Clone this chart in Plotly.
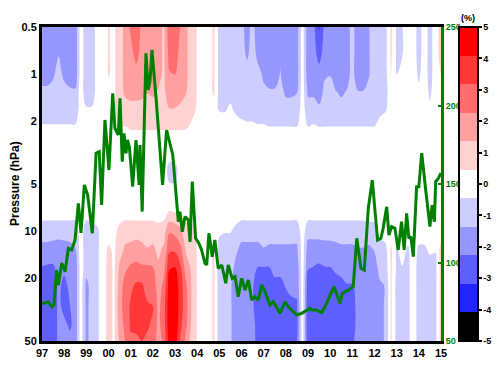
import numpy as np
import plotly.graph_objects as go

# ---------------- data ----------------
# time grid of the anomaly field (decimal years)
times = [1997.00, 1997.25, 1997.50, 1997.75, 1998.00, 1998.25, 1998.50, 1998.75,
         1999.00, 1999.25, 1999.50, 1999.75, 2000.00, 2000.25, 2000.50, 2000.75,
         2001.00, 2001.25, 2001.50, 2001.75, 2002.00, 2002.25, 2002.50, 2002.75,
         2003.00, 2003.25, 2003.50, 2003.75, 2004.00, 2004.25, 2004.50, 2004.75,
         2005.00, 2005.25, 2005.50, 2005.75, 2006.00, 2006.25, 2006.50, 2006.75,
         2007.00, 2007.25, 2007.50, 2007.75, 2008.00, 2008.25, 2008.50, 2008.75,
         2009.00, 2009.25, 2009.50, 2009.75, 2010.00, 2010.25, 2010.50, 2010.75,
         2011.00, 2011.25, 2011.50, 2011.75, 2012.00, 2012.25, 2012.50, 2012.75,
         2013.00, 2013.25, 2013.50, 2013.75, 2014.00, 2014.25, 2014.50, 2014.75,
         2015.00]

# pressure levels (hPa)
levels = [0.5, 0.75, 1.0, 1.3, 1.7, 2.2, 3.0, 4.2, 6.0, 7.5, 10, 13, 17, 22, 30, 40, 50]

# anomaly (%) profiles, one per time, ordered like `levels`
anomaly_profiles = [
    [-2, -2, -2, -1, -1, -0.3, 0, 0, 0, 0, -1, -1.6, -2.3, -3, -3, -3, -3],
    [-2, -2, -2, -1, -1, -0.3, 0, 0, 0, 0, -1, -1.6, -2.4, -3, -3, -3, -3],
    [-2, -2, -1.5, -1, -1, -0.3, 0, 0, 0, 0, -1, -1.7, -2.4, -3, -3, -3, -3],
    [-2, -1.4, -1, -1, -1, -0.3, 0, 0, 0, 0, -1, -1.8, -2, -2, -2, -2, -2],
    [-2, -2, -1.6, -1, -1, -0.3, 0, 0, 0, 0, -1, -1.7, -2, -2.6, -2.6, -2, -2],
    [-2, -2, -1.8, -1.2, -1, -0.3, 0, 0, 0, 0, -1, -1.6, -2, -2, -2.3, -2.4, -2],
    [-2, -2, -2, -1.2, -1, -0.3, 0, 0, 0, 0, -1, -1.4, -2, -2, -2, -2, -2],
    [0, 0, 0, 0, 0, 0, 0, 0, 0, 0, 0, 0, 0, 0, 0, 0, 0],
    [-1, -1, -1, -1, -0.3, 0, 0, 0, 0, 0, -1, -1, -1, -1.6, -1.6, -1.6, -1.6],
    [-1, -1, -1, -1, -0.3, 0, 0, 0, 0, 0, -0.8, -1, -1, -1, -1, -1, -1],
    [0, 0, 0, 0, 0, 0, 0, 0, 0, 0, -0.6, -0.6, -0.6, -0.6, -0.6, -0.6, -0.6],
    [0, 0, 0, 0, 0, 0, 0, 0, 0, 0, 0, 0, 0, 0, 0, 0, 0],
    [0.5, 0.5, 0.5, 0.2, 0, 0, 0, 0, 0, 0, 0, 0.6, 0.8, 0.8, 0.8, 0.8, 0.8],
    [0.3, 0.3, 0.3, 0.3, 0.3, 0.2, 0, 0, 0, 0, 0.2, 0.3, 0.3, 0.3, 0.3, 0.3, 0.3],
    [1, 1, 1, 1, 1, 0.4, 0, 0, 0, 0, 0.7, 1, 1.5, 1.8, 2, 1.8, 1.5],
    [1.6, 1.6, 1.6, 1.5, 1, 0.4, 0, 0, 0, 0, 1, 1.5, 2.1, 2.6, 2.6, 2.5, 2.3],
    [2.4, 2, 2, 1.6, 1.1, 0.5, 0, 0, 0, 0, 1, 1.6, 2.4, 3, 3.3, 3.3, 3],
    [3, 2.5, 2, 1.6, 1.1, 0.5, 0, 0, 0, 0, 1, 1.8, 2.5, 3.3, 3.5, 3.4, 3],
    [2, 2, 2, 1.6, 1, 0.5, 0, 0, 0, 0, 1, 1.6, 2.4, 3.3, 3.5, 3.5, 3.2],
    [2, 2, 2, 1.4, 1, 0.5, 0, 0, 0, 0, 1, 1.4, 2.4, 2.8, 3.3, 3.3, 3],
    [2, 2, 2, 1.5, 1, 0.5, 0, 0, 0, 0, 1, 1.5, 2.3, 2.8, 3.2, 3, 2.8],
    [1.7, 1.7, 1.6, 1.3, 1, 0.5, 0, 0, 0, 0, 0.8, 1.2, 1.5, 1.8, 2, 2, 1.8],
    [1.2, 1.2, 1.2, 1.2, 1, 0.5, 0, 0, 0, 0, 1, 1.5, 2, 2.5, 2.8, 2.8, 2.5],
    [3, 2.6, 2.2, 1.8, 1.3, 0.5, 0, -0.8, 0, 0.5, 2.2, 3, 4, 4.6, 4.8, 4.8, 4.6],
    [3, 2.6, 2.3, 1.8, 1.3, 0.5, 0, -0.8, 0, 0.4, 2, 3, 4.1, 4.7, 4.8, 4.8, 4.6],
    [2.2, 2, 1.8, 1.6, 1.2, 0.5, 0, 0, 0, 0.4, 1.6, 2.5, 3.3, 3.6, 3.6, 3.4, 3],
    [1.5, 1.5, 1.5, 1.4, 1, 0.5, 0, 0, 0, 0, 0.8, 1.2, 1.8, 2.4, 2.6, 2.4, 2],
    [1, 1, 1, 1, 0.8, 0.2, 0, 0, 0, 0, 0.8, 1, 1.2, 1.3, 1.3, 1.2, 1],
    [0.4, 0.4, 0.4, 0.4, 0.3, 0, 0, 0, 0, 0, 0.3, 0.4, 0.4, 0.4, 0.4, 0.4, 0.4],
    [0, 0, 0, 0, 0, 0, 0, 0, 0, 0, 0, 0, 0, 0, 0, 0, 0],
    [0, 0, 0, 0, 0, 0, 0, 0, 0, 0, 0, 0, 0, 0, 0, 0, 0],
    [0.6, 0.6, 0.6, 0.6, 0, 0, 0, 0, 0, 0, 0, 0.6, 0.6, 0.6, 0.6, 0.6, 0.6],
    [-0.8, -0.8, -0.8, -0.8, -0.5, 0, 0, 0, 0, 0, -0.3, -0.8, -1, -1, -1, -1, -1],
    [-1, -1, -1, -1, -0.5, 0, 0, 0, 0, 0, -0.4, -1, -1, -1, -1, -1, -1],
    [-1, -1, -1, -0.7, -0.3, 0, 0, 0, 0, 0, -0.4, -1, -1, -1.2, -1.2, -1.2, -1.2],
    [-1, -1, -1, -1, -0.6, 0, 0, 0, 0, 0, -0.7, -1.2, -1.6, -2, -2, -2, -2],
    [-1, -1, -1, -1, -0.8, -0.1, 0, 0, 0, 0, -1, -1.6, -2, -2, -2, -2, -2],
    [-1.8, -1.5, -1, -1, -0.9, -0.2, 0, 0, 0, 0, -1, -1.6, -2, -2, -2, -2, -2],
    [-1, -1, -1, -1, -0.9, -0.2, 0, 0, 0, 0, -1, -1.6, -2, -2.2, -2.2, -2, -2],
    [-2, -1.6, -1.1, -1, -1, -0.3, 0, 0, 0, 0, -1, -1.6, -2.3, -2.6, -2.6, -2.6, -2.6],
    [-1.5, -1.5, -1.5, -1.2, -1, -0.3, 0, 0, 0, 0, -1, -1.4, -2.3, -2.6, -2.8, -2.8, -2.6],
    [-2, -2, -2, -1.2, -1, -0.4, 0, 0, 0, 0, -1, -1.5, -2.3, -2.8, -2.8, -2.8, -2.8],
    [-2, -2, -2, -1.2, -1, -0.4, 0, 0, 0, 0, -1, -1.5, -2, -2.5, -2.6, -2.6, -2.6],
    [-1.4, -1.4, -1.3, -1.1, -1, -0.4, 0, 0, 0, 0, -1, -1.5, -2, -2.5, -2.8, -2.8, -2.5],
    [-2, -2, -2, -1.5, -1, -0.4, 0, 0, 0, 0, -1, -1.5, -2, -2.2, -2.6, -2.6, -2.4],
    [-2, -2, -2, -1.5, -1, -0.4, 0, 0, 0, 0, -1, -1.5, -2, -2, -2.5, -2.6, -2.4],
    [-1.8, -1.8, -1.8, -1.4, -1, -0.4, 0, 0, 0, 0, -1, -1.5, -2, -2, -2.4, -2.6, -2.4],
    [0, 0, 0, 0, 0, 0, 0, 0, 0, 0, 0, 0, 0, 0, 0, 0, 0],
    [-2, -2, -2, -1.5, -1, -0.4, 0, 0, 0, 0, -1, -1.8, -2.2, -2.8, -3, -3, -3],
    [-2, -2, -2, -1.5, -1, -0.3, 0, 0, 0, 0, -1, -1.8, -2.3, -2.9, -3, -3, -2.9],
    [-3.3, -2.5, -2, -1.9, -1.1, -0.4, 0, 0, 0, 0, -1, -1.8, -2.4, -2.9, -3, -3, -3],
    [-2, -2, -1.5, -1.1, -1, -0.4, 0, 0, 0, 0, -1, -1.7, -2.3, -2.9, -3, -3, -3],
    [-2, -2, -1.4, -1.1, -1, -0.4, 0, 0, 0, 0, -1, -1.7, -2.3, -2.9, -3, -3, -2.9],
    [-2, -2, -2, -1.3, -1, -0.4, 0, 0, 0, 0, -1, -1.6, -2.1, -2.6, -2.9, -2.9, -2.8],
    [-2, -2, -2, -1.5, -1, -0.4, 0, 0, 0, 0, -1, -1.5, -2, -2.5, -2.9, -2.9, -2.8],
    [-1.8, -1.8, -1.8, -1.3, -1, -0.4, 0, 0, 0, 0, -1, -1.5, -2, -2.3, -2.8, -2.8, -2.6],
    [-1, -1, -1, -1, -1, -0.4, 0, 0, 0, 0, -1, -1.5, -2, -2.3, -2.6, -2.6, -2.4],
    [-2, -2, -2, -1.3, -1, -0.4, 0, 0, 0, 0, -1, -1.4, -2, -2, -2, -2, -2],
    [-2, -2, -2, -1.3, -1, -0.4, 0, 0, 0, 0, -1, -1.4, -2, -2, -2, -2, -2],
    [-1.4, -1.4, -1.4, -1.2, -1, -0.4, 0, 0, 0, 0, -0.9, -1.5, -2, -2, -2, -2, -2],
    [-1, -1, -1, -1, -1, -0.4, 0, 0, 0, 0, -0.8, -1.3, -1.8, -2, -2, -2, -1.8],
    [-1, -1, -1, -1, -0.7, 0, 0, 0, 0, 0, -0.2, -0.8, -1, -1.5, -1.5, -1.5, -1.5],
    [-0.7, -0.7, -0.7, -0.7, -0.5, 0, 0, 0, 0, 0, 0, -0.7, -1, -1.3, -1.3, -1.3, -1.3],
    [0.6, 0.6, 0.5, 0, 0, 0, 0, 0, 0, 0, 0, 0.6, 0.6, 0.6, 0.6, 0.6, 0.6],
    [-0.6, -0.6, -0.5, 0, 0, 0, 0, 0, 0, 0, 0, -0.6, -0.6, -0.8, -0.8, -0.8, -0.8],
    [-0.5, -0.5, 0, 0, 0, 0, 0, 0, 0, 0, 0, 0, -0.5, -0.8, -0.8, -0.8, -0.6],
    [0, 0, 0, 0, 0, 0, 0, 0, 0, 0, 0, -0.6, -0.7, -0.7, -0.7, -0.7, -0.7],
    [0, 0, 0, 0, 0, 0, 0, 0, 0, 0, 0, 0, 0, 0, 0, 0, 0],
    [-0.8, -0.8, -0.6, -0.3, 0, 0, 0, 0, 0, 0, 0, -0.6, -0.8, -0.8, -0.8, -0.8, -0.8],
    [0, 0, 0, 0, 0, 0, 0, 0, 0, 0, 0, -0.6, -0.8, -1, -1, -0.8, -0.6],
    [-0.8, -0.8, -0.8, -0.6, -0.3, 0, 0, 0, 0, 0, 0, -0.3, -0.8, -0.8, -0.8, -0.8, -0.6],
    [0, 0, 0, 0, 0, 0, 0, 0, 0, 0, 0, -0.4, -0.7, -0.7, -0.7, -0.7, -0.7],
    [0.8, 0.8, 0.5, 0, 0, 0, 0, 0, 0, 0, 0, 0.8, 0.8, 0.8, 0.8, 0.8, 0.8],
]

# green index series (right axis)
line_years = [1997.00, 1997.06, 1997.28, 1997.44, 1997.54, 1997.66, 1997.74, 1997.89,
              1998.04, 1998.19, 1998.34, 1998.49, 1998.64, 1998.76, 1998.91, 1999.06,
              1999.27, 1999.44, 1999.58, 1999.69, 1999.84, 2000.02, 2000.19, 2000.29,
              2000.44, 2000.52, 2000.62, 2000.70, 2000.79, 2000.85, 2000.94, 2001.09,
              2001.24, 2001.38, 2001.42, 2001.52, 2001.69, 2001.79, 2001.87, 2001.96,
              2002.14, 2002.44, 2002.62, 2002.90, 2003.15, 2003.22, 2003.33, 2003.45,
              2003.60, 2003.68, 2003.78, 2003.93, 2004.08, 2004.20, 2004.35, 2004.43,
              2004.53, 2004.68, 2004.80, 2004.95, 2005.11, 2005.29, 2005.40, 2005.58,
              2005.71, 2005.85, 2006.01, 2006.16, 2006.31, 2006.46, 2006.61, 2006.76,
              2006.91, 2007.06, 2007.28, 2007.43, 2007.74, 2007.96, 2008.11, 2008.49,
              2008.71, 2009.09, 2009.17, 2009.39, 2009.62, 2009.84, 2010.07, 2010.18,
              2010.44, 2010.55, 2010.82, 2011.04, 2011.20, 2011.39, 2011.54, 2011.72,
              2011.90, 2012.14, 2012.29, 2012.39, 2012.55, 2012.65, 2012.77, 2012.92,
              2013.07, 2013.22, 2013.34, 2013.45, 2013.55, 2013.64, 2013.75, 2013.90,
              2014.00, 2014.13, 2014.31, 2014.50, 2014.60, 2014.70, 2014.76, 2014.88,
              2015.00]
line_values = [74, 74.0, 75.0, 71.8, 72.9, 95.2, 85.7, 99.7,
               94.1, 109.0, 108.0, 114.3, 137.7, 118.8, 149.4, 143.0,
               118.6, 169.6, 170.6, 136.6, 190.8, 158.9, 207.8, 185.5,
               181.2, 204.6, 164.2, 182.3, 169.6, 178.0, 173.8, 148.3,
               178.0, 149.4, 174.8, 132.4, 233.2, 209.9, 215.2, 235.4,
               205.6, 149.4, 184.4, 168.5, 126.0, 132.4, 119.6, 129.2,
               127.1, 113.2, 151.5, 115.4, 112.2, 108.0, 99.5, 98.4,
               118.6, 103.7, 114.3, 96.3, 98.4, 86.8, 98.4, 89.9,
               91.0, 78.2, 89.9, 82.5, 88.9, 76.1, 78.2, 76.1,
               85.7, 81.4, 72.9, 75.0, 67.6, 75.0, 71.8, 66.6,
               67.6, 70.8, 69.7, 69.7, 68.0, 74.0, 81.4, 84.6,
               74.0, 80.4, 82.5, 84.6, 115.4, 96.3, 95.2, 134.5,
               152.5, 114.3, 115.4, 121.8, 135.5, 117.5, 122.8, 121.8,
               108.0, 126.0, 108.0, 131.3, 115.4, 116.4, 103.7, 148.3,
               148.3, 169.6, 146.2, 122.8, 136.6, 126.0, 151.5, 153.6,
               157]

x_tick_years = [1997, 1998, 1999, 2000, 2001, 2002, 2003, 2004, 2005, 2006,
                2007, 2008, 2009, 2010, 2011, 2012, 2013, 2014, 2015]
x_tick_labels = ['97', '98', '99', '00', '01', '02', '03', '04', '05', '06',
                 '07', '08', '09', '10', '11', '12', '13', '14', '15']
p_ticks = [0.5, 1, 2, 5, 10, 20, 50]
p_tick_labels = ['0.5', '1', '2', '5', '10', '20', '50']
right_ticks = [50, 100, 150, 200, 250]
cbar_ticks = [-5, -4, -3, -2, -1, 0, 1, 2, 3, 4, 5]

band_colors = ['rgb(0,0,0)', 'rgb(35,35,255)', 'rgb(95,95,255)', 'rgb(150,150,255)',
               'rgb(205,205,255)', 'rgb(255,255,255)', 'rgb(255,210,210)',
               'rgb(255,160,160)', 'rgb(255,110,110)', 'rgb(255,55,55)', 'rgb(255,0,0)']

# ---------------- figure ----------------
FONT = 'Liberation Sans, Arial, Helvetica, sans-serif'
GREEN = 'rgb(0,128,0)'

# 11 colour bands over -5..5 -> scale so that each band is one unit wide
SCALE = 11 / 10
z = np.array(anomaly_profiles, dtype=float).T * SCALE

n = len(band_colors)
colorscale = []
for i, c in enumerate(band_colors):
    colorscale.append([i / n, c])
    colorscale.append([(i + 1) / n, c])

# the page body has an 8px margin, so the figure is drawn 8px in from the window edge
OFF = 8
W, H = 500 - 2 * OFF, 376 - 2 * OFF
L, T = 42 - OFF, 27 - OFF
R = W - (441 - OFF)
B = H - (341 - OFF)
pw = W - L - R

fig = go.Figure()
fig.add_trace(go.Contour(
    x=times, y=levels, z=z,
    zmin=-5.5, zmax=5.5, autocontour=False,
    contours=dict(start=-5.5, end=5.5, size=1, coloring='fill', showlines=False),
    line=dict(width=0),
    colorscale=colorscale,
    hoverinfo='skip',
    colorbar=dict(
        x=(459 - OFF - L) / pw, xanchor='left', y=0.5, yanchor='middle',
        len=1, lenmode='fraction', thickness=19, thicknessmode='pixels',
        xpad=0, ypad=0, outlinewidth=2, outlinecolor='black',
        tickvals=[v * SCALE for v in cbar_ticks],
        ticktext=[str(v) for v in cbar_ticks],
        ticks='outside', ticklen=3, tickwidth=2, tickcolor='black',
        tickfont=dict(family=FONT, size=9, color='black', weight='bold'),
    ),
))
fig.add_trace(go.Scatter(
    x=line_years, y=line_values, yaxis='y2', mode='lines',
    line=dict(color=GREEN, width=3), hoverinfo='skip', showlegend=False,
))

fig.update_layout(
    width=W, height=H,
    margin=dict(l=L, r=R, t=T, b=B, autoexpand=False),
    paper_bgcolor='white', plot_bgcolor='white',
    font=dict(family=FONT, size=11, color='black', weight='bold'),
    showlegend=False,
    xaxis=dict(range=[1997, 2015], tickvals=x_tick_years, ticktext=x_tick_labels,
               showline=True, linecolor='black', linewidth=3, mirror=True,
               ticks='', showgrid=False, zeroline=False,
               tickfont=dict(family=FONT, size=11, color='black', weight='bold')),
    yaxis=dict(type='log', range=[np.log10(50), np.log10(0.5)],
               tickvals=p_ticks, ticktext=p_tick_labels,
               showline=True, linecolor='black', linewidth=3,
               ticks='', showgrid=False, zeroline=False,
               tickfont=dict(family=FONT, size=11, color='black', weight='bold')),
    yaxis2=dict(overlaying='y', side='right', range=[50, 250], tickvals=right_ticks,
                showline=True, linecolor=GREEN, linewidth=3,
                ticks='inside', ticklen=3, tickwidth=2, tickcolor=GREEN,
                showgrid=False, zeroline=False,
                tickfont=dict(family=FONT, size=9, color=GREEN, weight='bold')),
    annotations=[
        dict(text='Pressure (hPa)', xref='paper', yref='paper',
             x=(15 - OFF - L) / pw, y=0.5, xanchor='center', yanchor='middle',
             textangle=-90, showarrow=False,
             font=dict(family=FONT, size=12, color='black', weight='bold')),
        dict(text='(%)', xref='paper', yref='paper',
             x=(468 - OFF - L) / pw, y=1.0, xanchor='center', yanchor='bottom', yshift=2,
             showarrow=False,
             font=dict(family=FONT, size=9, color='black', weight='bold')),
    ],
)

fig.write_html('out.html')
